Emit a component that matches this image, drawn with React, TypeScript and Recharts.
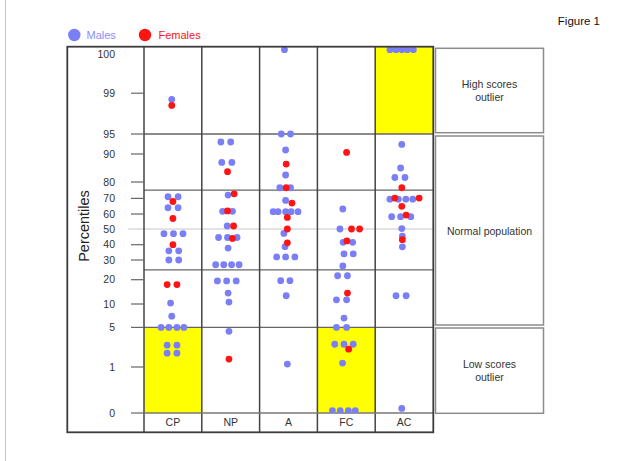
import React from "react";
import {
  ScatterChart,
  Scatter,
  XAxis,
  YAxis,
  ReferenceArea,
  ReferenceLine,
} from "recharts";

const CATEGORIES = ["CP", "NP", "A", "FC", "AC"];

// percentile ticks and where each one sits on the hand drawn probability axis
// (distance up from the 0 line, in axis units)
const Y_TICKS = [0, 1, 5, 10, 20, 30, 40, 50, 60, 70, 80, 90, 95, 99, 100];
const Y_TICK_POS = [0, 46, 85.6, 109, 133.3, 153, 168.3, 184, 199, 214.6, 231, 259, 279, 319.8, 363.3];
const Y_TOP = 366;

const LOW_CUT = 5;
const HIGH_CUT = 95;
const QUARTILES = [25, 75];
const MEDIAN = 50;

// cells shaded yellow: [category, band]
const HIGHLIGHTS = [
  ["CP", "low"],
  ["FC", "low"],
  ["AC", "high"],
];

// [category, offset inside the swarm, percentile]
const MALES: [string, number, number][] = [
  ["CP", -0.02, 98.4],
  ["CP", -0.085, 71], ["CP", 0.09, 71],
  ["CP", -0.085, 64], ["CP", 0.09, 64],
  ["CP", -0.155, 47], ["CP", 0.01, 47], ["CP", 0.175, 47],
  ["CP", -0.07, 36], ["CP", 0.1, 36],
  ["CP", -0.07, 30], ["CP", 0.1, 30],
  ["CP", -0.04, 10.4],
  ["CP", -0.02, 7.4],
  ["CP", -0.205, 5], ["CP", -0.07, 5], ["CP", 0.07, 5], ["CP", 0.19, 5],
  ["CP", -0.1, 3.2], ["CP", 0.07, 3.2],
  ["CP", -0.1, 2.4], ["CP", 0.07, 2.4],

  ["NP", -0.17, 93], ["NP", 0, 93],
  ["NP", -0.155, 87], ["NP", 0.02, 87],
  ["NP", -0.045, 72],
  ["NP", -0.14, 61.7], ["NP", 0.03, 61.7],
  ["NP", -0.06, 52],
  ["NP", -0.21, 44.6], ["NP", -0.055, 44.6], ["NP", 0.11, 44.6],
  ["NP", -0.045, 37.8],
  ["NP", -0.26, 27.6], ["NP", -0.12, 27.6], ["NP", 0.015, 27.6], ["NP", 0.145, 27.6],
  ["NP", -0.23, 19.5], ["NP", -0.07, 19.5], ["NP", 0.095, 19.5],
  ["NP", -0.045, 14.5],
  ["NP", -0.03, 10.8],
  ["NP", -0.03, 4.6],

  ["A", -0.07, 100],
  ["A", -0.125, 95], ["A", 0.035, 95],
  ["A", -0.05, 91],
  ["A", -0.05, 82.5],
  ["A", -0.15, 76.5], ["A", 0.035, 76.5],
  ["A", -0.05, 68.7],
  ["A", -0.265, 61.5], ["A", -0.18, 61.5], ["A", -0.05, 61.5], ["A", 0.045, 61.5], ["A", 0.165, 61.5],
  ["A", -0.08, 47.2],
  ["A", -0.06, 38.7],
  ["A", -0.205, 32], ["A", -0.05, 32], ["A", 0.11, 32],
  ["A", -0.135, 19.6], ["A", 0.025, 19.6],
  ["A", -0.04, 13.4],
  ["A", -0.02, 1.3],

  ["FC", -0.06, 63.2],
  ["FC", -0.11, 50],
  ["FC", -0.055, 41.5], ["FC", 0.11, 41.5],
  ["FC", -0.04, 34], ["FC", 0.12, 34],
  ["FC", -0.06, 27],
  ["FC", -0.15, 22], ["FC", 0.02, 22],
  ["FC", -0.17, 11.7], ["FC", 0.005, 11.7],
  ["FC", -0.04, 7],
  ["FC", -0.17, 5], ["FC", 0.005, 5],
  ["FC", -0.2, 3.3], ["FC", -0.04, 3.3], ["FC", 0.12, 3.3],
  ["FC", -0.065, 1.4],
  ["FC", -0.24, 0.05], ["FC", -0.105, 0.05], ["FC", 0.035, 0.05], ["FC", 0.155, 0.05],

  ["AC", -0.245, 100], ["AC", -0.14, 100], ["AC", -0.04, 100], ["AC", 0.055, 100], ["AC", 0.16, 100],
  ["AC", -0.04, 92.4],
  ["AC", -0.06, 85],
  ["AC", -0.16, 81.6], ["AC", 0.015, 81.6],
  ["AC", -0.245, 69.5], ["AC", -0.1, 69.5], ["AC", 0.03, 69.5], ["AC", 0.15, 69.5],
  ["AC", -0.215, 58.2], ["AC", -0.06, 58.2], ["AC", 0.115, 58.2],
  ["AC", -0.04, 50.3],
  ["AC", -0.03, 45.5],
  ["AC", -0.03, 38.6],
  ["AC", -0.14, 13.4], ["AC", 0.035, 13.4],
  ["AC", -0.04, 0.1],
];

const FEMALES: [string, number, number][] = [
  ["CP", -0.02, 97.8], ["CP", 0, 68], ["CP", 0, 57], ["CP", 0, 40], ["CP", -0.1, 18], ["CP", 0.07, 18],
  ["NP", -0.055, 83.7], ["NP", 0.06, 72.8], ["NP", -0.055, 62], ["NP", 0.05, 52], ["NP", 0.03, 44], ["NP", -0.03, 1.8],
  ["A", -0.04, 86.4], ["A", -0.04, 76.5], ["A", 0.06, 67], ["A", -0.02, 57.7], ["A", -0.02, 50], ["A", -0.02, 41.2],
  ["FC", 0.005, 90.4], ["FC", 0.09, 50], ["FC", 0.23, 50], ["FC", 0.01, 42.4], ["FC", 0.02, 14.5], ["FC", 0.04, 2.8],
  ["AC", -0.04, 76.5], ["AC", -0.16, 70.2], ["AC", 0.26, 70.2], ["AC", -0.04, 64.9], ["AC", 0.035, 59.3], ["AC", -0.03, 43.2],
];

const BLUE = "#7b7ff6";
const RED = "#ff1414";
const FONT = "'Liberation Sans', Arial, sans-serif";

// piecewise probability scale: percentile -> axis units
const pos = (p: number) => {
  for (let i = 0; i < Y_TICKS.length - 1; i++) {
    if (p <= Y_TICKS[i + 1]) {
      const t = (p - Y_TICKS[i]) / (Y_TICKS[i + 1] - Y_TICKS[i]);
      return Y_TICK_POS[i] + t * (Y_TICK_POS[i + 1] - Y_TICK_POS[i]);
    }
  }
  return Y_TICK_POS[Y_TICK_POS.length - 1];
};

const toPoints = (rows: [string, number, number][]) =>
  rows.map(([cat, dx, p]) => ({
    x: CATEGORIES.indexOf(cat) + 1 + dx,
    y: pos(p),
  }));

const dot = (color: string) => (props: any) =>
  <circle cx={props.cx} cy={props.cy} r={3.4} fill={color} />;

const PctTick = (props: any) => {
  const { x, y, payload } = props;
  let idx = 0;
  Y_TICK_POS.forEach((v, i) => {
    if (Math.abs(v - payload.value) < Math.abs(Y_TICK_POS[idx] - payload.value)) idx = i;
  });
  const label = Y_TICKS[idx];
  const isTop = label === 100;
  // the median tick is part of the light grey median line
  const showLine = !isTop && label !== MEDIAN;
  return (
    <g>
      {showLine && (
        <line x1={x + 16} x2={x + 29} y1={y} y2={y} stroke="#666" strokeWidth={1.2} />
      )}
      <text
        x={x}
        y={isTop ? y + 4.5 : y}
        dy="0.355em"
        textAnchor="end"
        fontSize={10.5}
        fill="#333"
        fontFamily={FONT}
      >
        {label}
      </text>
    </g>
  );
};

const App = () => {
  const males = toPoints(MALES);
  const females = toPoints(FEMALES);

  return (
    <div
      style={{
        position: "absolute",
        left: 0,
        top: 0,
        width: 627,
        height: 461,
        background: "#fff",
        fontFamily: FONT,
      }}
    >
      <ScatterChart
        width={627}
        height={461}
        margin={{ top: 47, right: 194, bottom: 0, left: 0 }}
      >
        {HIGHLIGHTS.map(([cat, band]) => {
          const i = CATEGORIES.indexOf(cat) + 1;
          return (
            <ReferenceArea
              key={cat}
              x1={i - 0.5}
              x2={i + 0.5}
              y1={band === "low" ? 0 : pos(HIGH_CUT)}
              y2={band === "low" ? pos(LOW_CUT) : Y_TOP}
              fill="#ffff00"
              fillOpacity={1}
              stroke="none"
            />
          );
        })}

        <ReferenceLine
          segment={[
            { x: 0.22, y: pos(MEDIAN) },
            { x: 5.5, y: pos(MEDIAN) },
          ]}
          ifOverflow="visible"
          stroke="#c8c8c8"
          strokeWidth={1.2}
        />
        {[LOW_CUT, ...QUARTILES, HIGH_CUT].map((v) => (
          <ReferenceLine key={v} y={pos(v)} stroke="#666" strokeWidth={1.3} />
        ))}

        {CATEGORIES.map((c, i) => (
          <ReferenceLine
            key={c}
            segment={[
              { x: i + 0.5, y: -19.3 },
              { x: i + 0.5, y: Y_TOP },
            ]}
            ifOverflow="visible"
            stroke="#444"
            strokeWidth={1.5}
          />
        ))}

        <XAxis
          type="number"
          dataKey="x"
          domain={[0.5, 5.5]}
          ticks={[1, 2, 3, 4, 5]}
          interval={0}
          allowDataOverflow
          tickFormatter={(v) => CATEGORIES[Math.round(v) - 1]}
          height={48}
          tickLine={false}
          tickSize={4}
          tick={{ fontSize: 10.5, fill: "#333", fontFamily: FONT }}
          axisLine={{ stroke: "#777", strokeWidth: 1.3 }}
        />
        <YAxis
          type="number"
          dataKey="y"
          domain={[0, Y_TOP]}
          ticks={Y_TICKS.map(pos)}
          interval={0}
          allowDataOverflow
          width={144}
          tickSize={13}
          tickMargin={16}
          tickLine={false}
          axisLine={false}
          tick={<PctTick />}
        />

        <Scatter name="Males" data={males} shape={dot(BLUE)} isAnimationActive={false} />
        <Scatter name="Females" data={females} shape={dot(RED)} isAnimationActive={false} />
      </ScatterChart>

      <svg
        width={627}
        height={461}
        style={{ position: "absolute", left: 0, top: 0, pointerEvents: "none" }}
        fontFamily={FONT}
      >
        <line x1={5.5} x2={5.5} y1={0} y2={461} stroke="#c8c8c8" strokeWidth={1} />

        {/* outer frame */}
        <rect x={67.3} y={46.7} width={366} height={385.6} fill="none" stroke="#3c3c3c" strokeWidth={1.8} />

        {/* legend + title */}
        <circle cx={74.3} cy={35} r={6.2} fill={BLUE} />
        <text x={86.5} y={39} fontSize={11} fill="#8a8cff">Males</text>
        <circle cx={145} cy={35} r={6.2} fill={RED} />
        <text x={158.5} y={39} fontSize={11} fill={RED}>Females</text>
        <text x={600} y={25} fontSize={11.5} textAnchor="end" fill="#111">Figure 1</text>

        <text
          transform="translate(89,226) rotate(-90)"
          textAnchor="middle"
          fontSize={14.5}
          fill="#222"
        >
          Percentiles
        </text>

        {/* band labels on the right */}
        <g stroke="#8c8c8c" strokeWidth={1.5} fill="none">
          <rect x={435.5} y={48.3} width={108} height={84.4} />
          <rect x={435.5} y={136} width={108} height={189} />
          <rect x={435.5} y={328} width={108} height={85.3} />
        </g>
        <g fontSize={10.5} fill="#333" textAnchor="middle">
          <text x={489.5} y={88.3}>High scores</text>
          <text x={489.5} y={101.3}>outlier</text>
          <text x={489.5} y={234.5}>Normal population</text>
          <text x={489.5} y={367.7}>Low scores</text>
          <text x={489.5} y={381}>outlier</text>
        </g>
      </svg>
    </div>
  );
};

export default App;
